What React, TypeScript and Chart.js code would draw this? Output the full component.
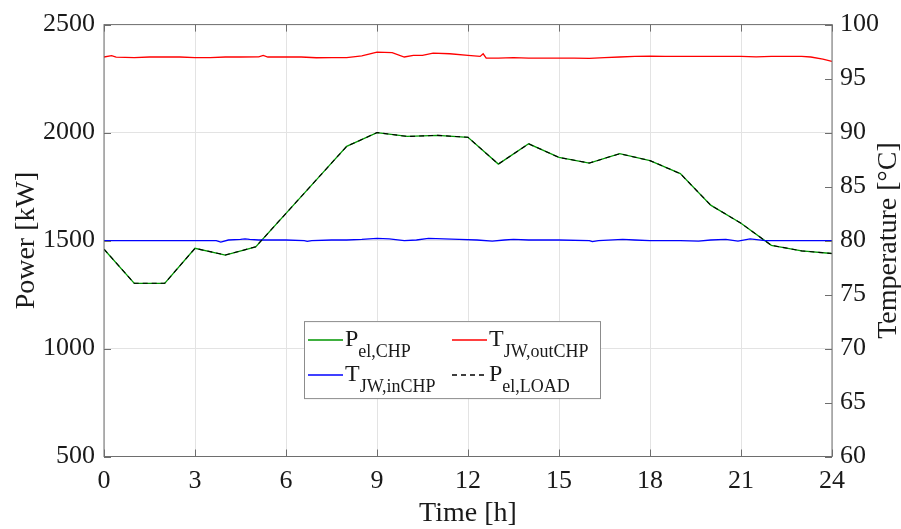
import React, { useEffect, useRef } from 'react';
import { Chart, registerables } from 'chart.js';

Chart.register(...registerables);

// ---------- data ----------
const powerHours = [0, 1, 2, 3, 4, 5, 6, 7, 8, 9, 10, 11, 12, 13, 14, 15, 16, 17, 18, 19, 20, 21, 22, 23, 24];
const pElChp = [1460, 1302, 1302, 1464, 1433, 1471, 1626, 1781, 1936, 2000, 1982, 1987, 1978, 1854, 1948, 1885, 1859, 1902, 1870, 1810, 1664, 1580, 1478, 1452, 1440];
const pElLoad = [1460, 1302, 1302, 1464, 1433, 1471, 1626, 1781, 1936, 2000, 1982, 1987, 1978, 1854, 1948, 1885, 1859, 1902, 1870, 1810, 1664, 1580, 1478, 1452, 1440];

const tOutHours = [0, 0.25, 0.4, 1, 1.5, 2, 2.5, 3, 3.5, 4, 4.5, 5.1, 5.25, 5.4, 6, 6.5, 7, 7.5, 8, 8.5, 9, 9.5, 9.9, 10.2, 10.5, 10.85, 11.4, 12, 12.4, 12.5, 12.6, 13, 13.5, 14, 14.5, 15, 15.5, 16, 16.5, 17, 17.5, 18, 18.5, 19, 19.5, 20, 20.5, 21, 21.5, 22, 22.5, 23, 23.3, 23.7, 24];
const tOutCHP = [97.0, 97.12, 96.98, 96.95, 97.0, 97.0, 97.0, 96.95, 96.95, 97.0, 97.0, 97.02, 97.15, 97.0, 97.0, 97.0, 96.93, 96.95, 96.95, 97.1, 97.45, 97.4, 97.0, 97.15, 97.15, 97.35, 97.3, 97.15, 97.05, 97.3, 96.9, 96.9, 96.95, 96.9, 96.9, 96.9, 96.9, 96.87, 96.95, 97.0, 97.05, 97.08, 97.05, 97.05, 97.05, 97.05, 97.05, 97.05, 97.02, 97.05, 97.05, 97.05, 97.0, 96.8, 96.6];

const tInHours = [0, 1, 2, 3, 3.7, 3.85, 4.1, 4.5, 4.65, 4.8, 5.1, 5.5, 6, 6.6, 6.7, 6.85, 7.5, 8, 8.5, 9, 9.4, 9.9, 10.3, 10.7, 11.2, 11.7, 12.3, 12.8, 13.2, 13.5, 14, 15, 16, 16.1, 16.3, 17.1, 17.5, 18, 19, 19.6, 20, 20.5, 20.9, 21.3, 21.8, 22, 23, 24];
const tInCHP = [80.0, 80.0, 80.0, 80.0, 80.0, 79.85, 80.05, 80.1, 80.15, 80.1, 80.05, 80.05, 80.05, 80.0, 79.93, 80.0, 80.05, 80.05, 80.1, 80.2, 80.15, 80.0, 80.05, 80.2, 80.15, 80.1, 80.05, 79.95, 80.05, 80.1, 80.05, 80.05, 80.0, 79.9, 80.0, 80.1, 80.05, 80.0, 80.0, 79.95, 80.05, 80.1, 79.95, 80.15, 80.0, 80.0, 80.0, 80.0];

// legend slots: row 1 = [P_el,CHP, T_JW,outCHP], row 2 = [T_JW,inCHP, P_el,LOAD]
const legendMain = ['P', 'T', 'T', 'P'];
const legendSub = ['el,CHP', 'JW,outCHP', 'JW,inCHP', 'el,LOAD'];

const xTitle = 'Time [h]';
const yTitle = 'Power [kW]';
const y1Title = 'Temperature [°C]';

// ---------- styles ----------
const GREEN = 'rgb(0,150,0)';
const RED = 'rgb(255,0,0)';
const BLUE = 'rgb(0,0,255)';
const FONT = '"Liberation Serif", "Times New Roman", serif';
const TEXT = '#1a1a1a';
const AXIS = '#6e6e6e';
const GRID = '#e3e3e3';

const toXY = (xs: number[], ys: number[]) => xs.map((x, i) => ({ x, y: ys[i] }));

const framePlugin = {
  id: 'matlabFrame',
  afterDatasetsDraw(chart: any) {
    const { ctx, chartArea: a, scales } = chart;
    ctx.save();
    ctx.strokeStyle = AXIS;
    ctx.lineWidth = 1;
    ctx.strokeRect(a.left, a.top, a.right - a.left, a.bottom - a.top);
    const tl = 7;
    ctx.beginPath();
    scales.x.ticks.forEach((t: any) => {
      const px = Math.round(scales.x.getPixelForValue(t.value)) + 0.5;
      ctx.moveTo(px, a.bottom); ctx.lineTo(px, a.bottom - tl);
      ctx.moveTo(px, a.top); ctx.lineTo(px, a.top + tl);
    });
    scales.y.ticks.forEach((t: any) => {
      const py = Math.round(scales.y.getPixelForValue(t.value)) + 0.5;
      ctx.moveTo(a.left, py); ctx.lineTo(a.left + tl, py);
    });
    scales.y1.ticks.forEach((t: any) => {
      const py = Math.round(scales.y1.getPixelForValue(t.value)) + 0.5;
      ctx.moveTo(a.right, py); ctx.lineTo(a.right - tl, py);
    });
    ctx.stroke();
    ctx.restore();
  },
  afterDraw(chart: any) {
    const { ctx, chartArea: a } = chart;
    ctx.save();
    // axis titles
    ctx.fillStyle = TEXT;
    ctx.font = `28px ${FONT}`;
    ctx.textAlign = 'center';
    ctx.textBaseline = 'alphabetic';
    ctx.fillText(xTitle, (a.left + a.right) / 2, 521);
    const cy = (a.top + a.bottom) / 2;
    ctx.save();
    ctx.translate(34, cy);
    ctx.rotate(-Math.PI / 2);
    ctx.fillText(yTitle, 0, 0);
    ctx.restore();
    ctx.save();
    ctx.translate(896, cy);
    ctx.rotate(-Math.PI / 2);
    ctx.fillText(y1Title, 0, 0);
    ctx.restore();

    // legend
    const bx = a.left + 200;
    const by = a.top + 296.5;
    const bw = 296;
    const bh = 77;
    ctx.fillStyle = '#ffffff';
    ctx.fillRect(bx, by, bw, bh);
    ctx.strokeStyle = '#8c8c8c';
    ctx.lineWidth = 1;
    ctx.strokeRect(bx + 0.5, by + 0.5, bw, bh);
    const ds = chart.data.datasets;
    const colX = [bx + 4, bx + 148];
    const rowY = [by + 25, by + 60];
    for (let i = 0; i < 4; i++) {
      const d = ds[i];
      const cx = colX[i % 2];
      const baseline = rowY[Math.floor(i / 2)];
      const ly = Math.round(baseline - 6);
      ctx.strokeStyle = d.borderColor;
      ctx.lineWidth = 1.5;
      ctx.setLineDash(d.borderDash || []);
      ctx.beginPath();
      ctx.moveTo(cx, ly);
      ctx.lineTo(cx + 35, ly);
      ctx.stroke();
      ctx.setLineDash([]);
      ctx.fillStyle = TEXT;
      ctx.textAlign = 'left';
      ctx.textBaseline = 'alphabetic';
      ctx.font = `24px ${FONT}`;
      const mainText = legendMain[i];
      ctx.fillText(mainText, cx + 37, baseline);
      const w = ctx.measureText(mainText).width;
      ctx.font = `18px ${FONT}`;
      ctx.fillText(legendSub[i], cx + 37 + w, baseline + 11);
    }
    ctx.restore();
  },
};

export default function App() {
  const ref = useRef<HTMLCanvasElement | null>(null);
  useEffect(() => {
    if (!ref.current) return;
    const tickFont = { family: FONT, size: 26 };
    const plain = (v: any) => String(v);
    const chart = new Chart(ref.current, {
      type: 'line',
      data: {
        datasets: [
          {
            label: 'P_el,CHP',
            data: toXY(powerHours, pElChp),
            borderColor: GREEN,
            borderWidth: 1.3,
            pointRadius: 0,
            yAxisID: 'y',
            order: 4,
          },
          {
            label: 'T_JW,outCHP',
            data: toXY(tOutHours, tOutCHP),
            borderColor: RED,
            borderWidth: 1.3,
            pointRadius: 0,
            yAxisID: 'y1',
            order: 3,
          },
          {
            label: 'T_JW,inCHP',
            data: toXY(tInHours, tInCHP),
            borderColor: BLUE,
            borderWidth: 1.3,
            pointRadius: 0,
            yAxisID: 'y1',
            order: 2,
          },
          {
            label: 'P_el,LOAD',
            data: toXY(powerHours, pElLoad),
            borderColor: '#000000',
            borderWidth: 1.1,
            borderDash: [5, 4],
            pointRadius: 0,
            yAxisID: 'y',
            order: 1,
          },
        ],
      },
      options: {
        animation: false,
        responsive: false,
        events: [],
        layout: { padding: { top: 22.5, left: 0, right: 0, bottom: 0 } },
        plugins: { legend: { display: false }, tooltip: { enabled: false } },
        scales: {
          x: {
            type: 'linear',
            min: 0,
            max: 24,
            ticks: { stepSize: 3, font: tickFont, color: TEXT, padding: 9, maxRotation: 0, callback: plain },
            grid: { color: GRID, drawTicks: false },
            border: { display: false },
            afterFit: (s: any) => { s.height = 72.5; },
          },
          y: {
            type: 'linear',
            position: 'left',
            min: 500,
            max: 2500,
            ticks: { stepSize: 500, font: tickFont, color: TEXT, padding: 9, callback: plain },
            grid: { color: GRID, drawTicks: false },
            border: { display: false },
            afterFit: (s: any) => { s.width = 104; },
          },
          y1: {
            type: 'linear',
            position: 'right',
            min: 60,
            max: 100,
            ticks: { stepSize: 5, font: tickFont, color: TEXT, padding: 8, callback: plain },
            grid: { display: false, drawTicks: false },
            border: { display: false },
            afterFit: (s: any) => { s.width = 69; },
          },
        },
      },
      plugins: [framePlugin],
    } as any);
    return () => chart.destroy();
  }, []);
  return (
    <div style={{ position: 'fixed', left: 0, top: 0, width: 901, height: 529, background: '#fff' }}>
      <canvas ref={ref} width={901} height={529} style={{ display: 'block' }} />
    </div>
  );
}
